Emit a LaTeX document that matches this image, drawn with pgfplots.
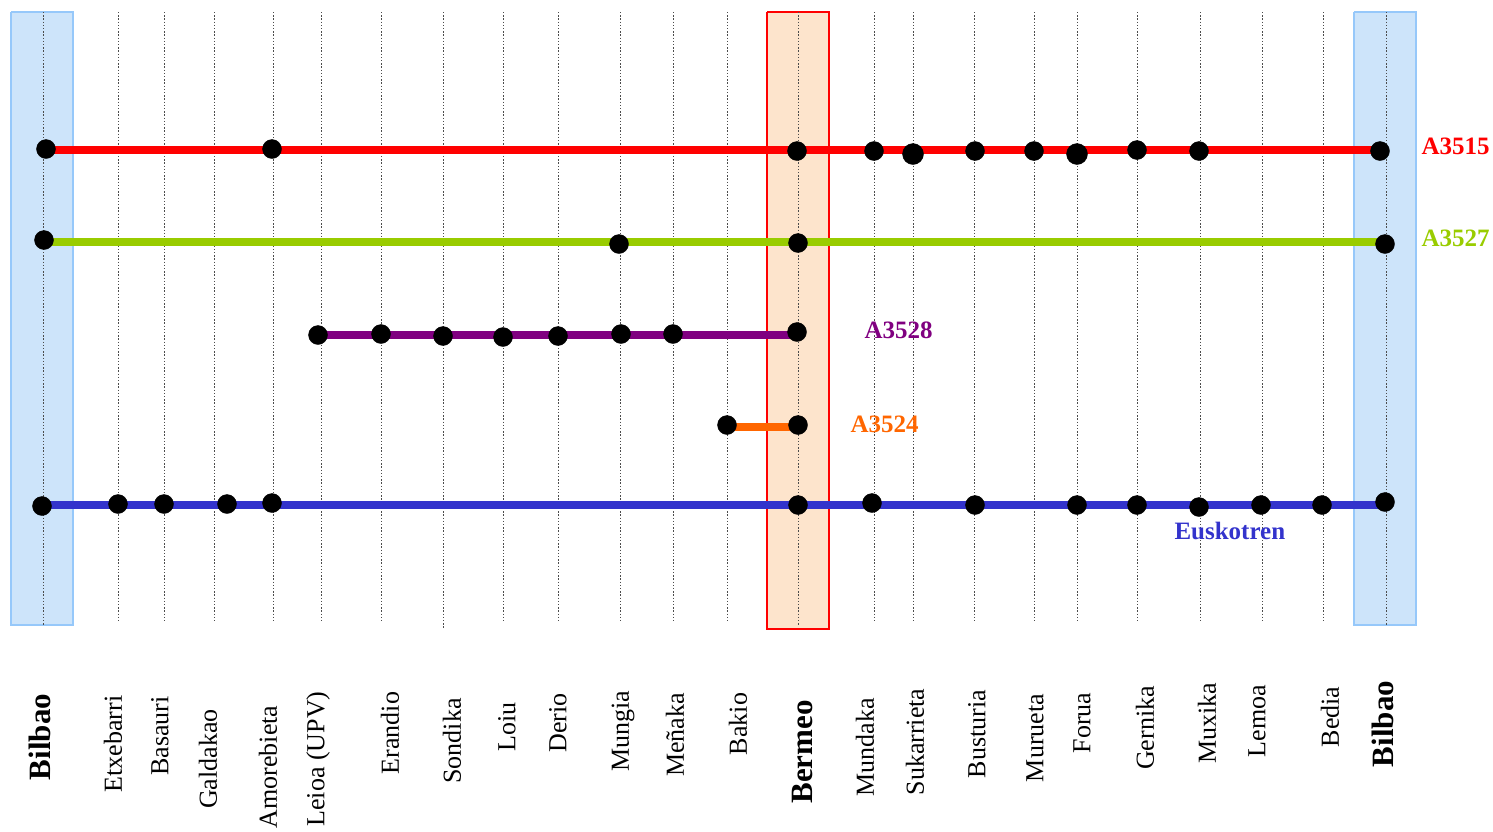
\documentclass[border=0pt]{standalone}
\usepackage{pgfplots}
\pgfplotsset{compat=1.18}
\usepackage{fontspec}
\setmainfont{Liberation Serif}
\definecolor{boxblue}{RGB}{205,228,250}
\definecolor{boxblueedge}{RGB}{150,200,250}
\definecolor{boxorange}{RGB}{253,228,204}
\definecolor{cred}{RGB}{255,0,0}
\definecolor{cgreen}{RGB}{153,204,0}
\definecolor{cpurple}{RGB}{128,0,128}
\definecolor{corange}{RGB}{255,102,0}
\definecolor{cblue}{RGB}{51,51,204}
\begin{document}
\begin{tikzpicture}
\begin{axis}[width=1493pt,height=831pt,scale only axis,
  xmin=0,xmax=1493,ymin=0,ymax=831,y dir=reverse,
  hide axis,clip=false,unbounded coords=jump]
\path (rel axis cs:0,0) rectangle (rel axis cs:1,1);
% shaded columns
\addplot[fill=boxblue,draw=boxblueedge,line width=1.5pt] coordinates {(11,12)(73,12)(73,625)(11,625)(11,12)};
\addplot[fill=boxblue,draw=boxblueedge,line width=1.5pt] coordinates {(1354,12)(1416,12)(1416,625)(1354,625)(1354,12)};
\addplot[fill=boxorange,draw=cred,line width=1.5pt] coordinates {(767,12)(829,12)(829,629)(767,629)(767,12)};
% dotted station gridlines
\addplot[black!70,line width=1pt,dash pattern=on 1.3pt off 1.9pt] coordinates {
(43,12)(43,625)(nan,nan)
(118,12)(118,622)(nan,nan)
(164,12)(164,622)(nan,nan)
(214,12)(214,622)(nan,nan)
(273,12)(273,622)(nan,nan)
(321,12)(321,622)(nan,nan)
(381,12)(381,622)(nan,nan)
(443,12)(443,628)(nan,nan)
(503,12)(503,622)(nan,nan)
(558,12)(558,622)(nan,nan)
(620,12)(620,622)(nan,nan)
(673,12)(673,622)(nan,nan)
(727,12)(727,622)(nan,nan)
(798,12)(798,625)(nan,nan)
(874,12)(874,622)(nan,nan)
(913,12)(913,622)(nan,nan)
(974,12)(974,622)(nan,nan)
(1034,12)(1034,622)(nan,nan)
(1077,12)(1077,622)(nan,nan)
(1137,12)(1137,622)(nan,nan)
(1200,12)(1200,622)(nan,nan)
(1262,12)(1262,622)(nan,nan)
(1323,12)(1323,622)(nan,nan)
(1386,12)(1386,625)
};
% lines
\addplot[cred,line width=7.5pt] coordinates {(46,150)(1380,150)};
\addplot[cgreen,line width=7.5pt] coordinates {(44,242)(1385,242)};
\addplot[cpurple,line width=7.5pt] coordinates {(318,335)(797,335)};
\addplot[corange,line width=7.5pt] coordinates {(727,427)(798,427)};
\addplot[cblue,line width=7.5pt] coordinates {(42,505)(1385,505)};
% stops
\addplot[only marks,mark=*,mark size=9.5pt,black] coordinates {
(46,149)(272,149)(797,151)(874,151)(975,151)(1034,151)(1137,150)(1199,151)(1380,151)};
\addplot[only marks,mark=*,mark size=10.5pt,black] coordinates {(913,154)(1077,154)};
\addplot[only marks,mark=*,mark size=9.5pt,black] coordinates {
(44,240)(619,244)(798,243)(1385,244)};
\addplot[only marks,mark=*,mark size=9.5pt,black] coordinates {
(318,335)(381,334)(443,336)(503,337)(558,336)(621,334)(673,334)(797,332)};
\addplot[only marks,mark=*,mark size=9.5pt,black] coordinates {
(727,425)(798,425)};
\addplot[only marks,mark=*,mark size=9.5pt,black] coordinates {
(42,506)(118,504)(164,504)(227,504)(272,503)(798,505)(872,503)(975,505)(1077,505)(1137,505)(1199,507)(1261,505)(1322,505)(1385,502)};
% line names
\node[anchor=west,text=cred,font=\fontsize{25}{30}\selectfont\bfseries] at (axis cs:1418,146) {A3515};
\node[anchor=west,text=cgreen,font=\fontsize{25}{30}\selectfont\bfseries] at (axis cs:1418,238) {A3527};
\node[anchor=west,text=cpurple,font=\fontsize{25}{30}\selectfont\bfseries] at (axis cs:861,330) {A3528};
\node[anchor=west,text=corange,font=\fontsize{25}{30}\selectfont\bfseries] at (axis cs:847,424) {A3524};
\node[anchor=west,text=cblue,font=\fontsize{25}{30}\selectfont\bfseries] at (axis cs:1171,531) {Euskotren};
% station names
\tikzset{st/.style={rotate=90,inner sep=0pt,font=\fontsize{26}{30}\selectfont},
         stb/.style={rotate=90,inner sep=0pt,font=\fontsize{31}{36}\selectfont\bfseries}}
\node[stb] at (axis cs:40,737) {Bilbao};
\node[st] at (axis cs:113,744) {Etxebarri};
\node[st] at (axis cs:160,736) {Basauri};
\node[st] at (axis cs:208,759) {Galdakao};
\node[st] at (axis cs:268,767) {Amorebieta};
\node[st] at (axis cs:318,759) {Leioa (UPV)};
\node[st] at (axis cs:390,733) {Erandio};
\node[st] at (axis cs:452,741) {Sondika};
\node[st] at (axis cs:507,727) {Loiu};
\node[st] at (axis cs:558,723) {Derio};
\node[st] at (axis cs:623,731) {Mungia};
\node[st] at (axis cs:675,735) {Meñaka};
\node[st] at (axis cs:738,724) {Bakio};
\node[stb] at (axis cs:802,752) {Bermeo};
\node[st] at (axis cs:865,747) {Mundaka};
\node[st] at (axis cs:915,742) {Sukarrieta};
\node[st] at (axis cs:977,734) {Busturia};
\node[st] at (axis cs:1035,738) {Murueta};
\node[st] at (axis cs:1082,723) {Forua};
\node[st] at (axis cs:1145,728) {Gernika};
\node[st] at (axis cs:1207,723) {Muxika};
\node[st] at (axis cs:1257,721) {Lemoa};
\node[st] at (axis cs:1330,717) {Bedia};
\node[stb] at (axis cs:1383,724) {Bilbao};
\end{axis}
\end{tikzpicture}
\end{document}
